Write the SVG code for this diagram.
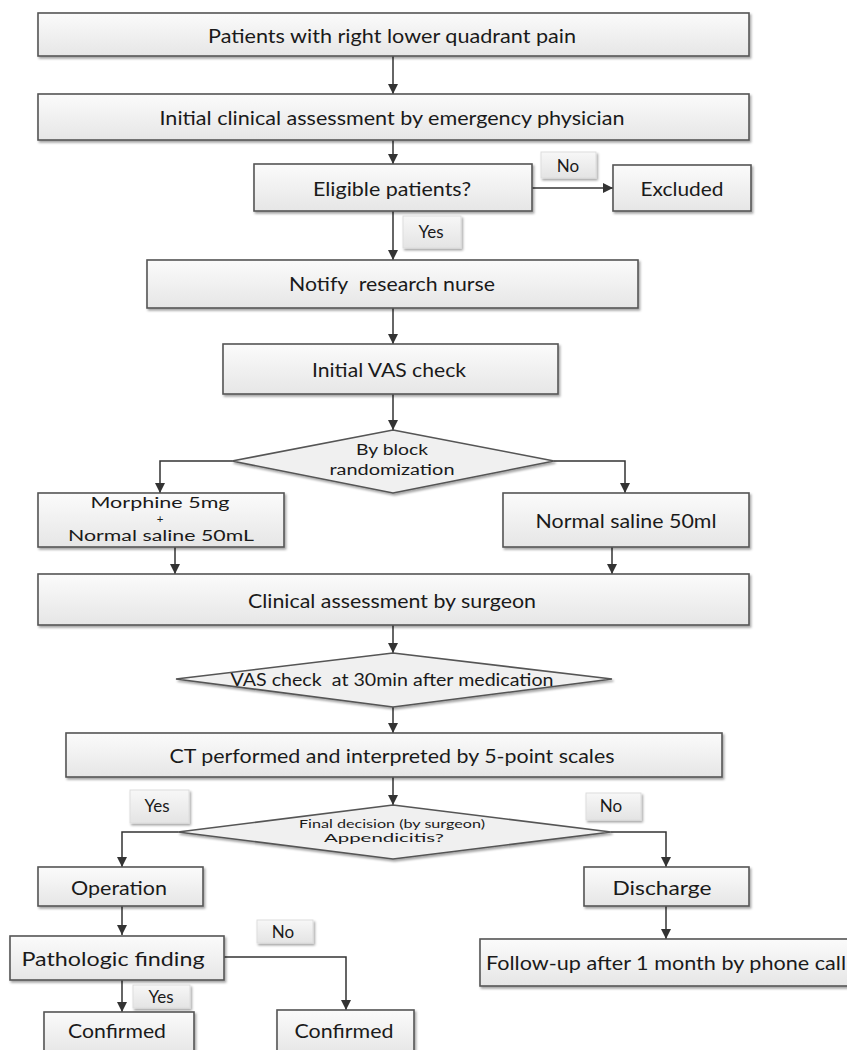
<svg xmlns="http://www.w3.org/2000/svg" width="847" height="1050" viewBox="0 0 847 1050">
<defs>
<linearGradient id="g" x1="0" y1="0" x2="0" y2="1">
<stop offset="0" stop-color="#fbfbfb"/>
<stop offset="1" stop-color="#e6e6e6"/>
</linearGradient>
<linearGradient id="gl" x1="0" y1="0" x2="0" y2="1">
<stop offset="0" stop-color="#f7f7f7"/>
<stop offset="1" stop-color="#e4e4e4"/>
</linearGradient>
<filter id="sh" x="-10%" y="-20%" width="120%" height="150%">
<feDropShadow dx="1.5" dy="2" stdDeviation="1.2" flood-color="#000" flood-opacity="0.35"/>
</filter>
<marker id="ah" viewBox="0 0 10 10" refX="10" refY="5" markerWidth="10" markerHeight="10" markerUnits="userSpaceOnUse" orient="auto">
<path d="M0,0 L10,5 L0,10 z" fill="#333"/>
</marker>
<style>
.box{fill:url(#g);stroke:#555;stroke-width:1.6;filter:url(#sh)}
.dia{fill:#f0f0f0;stroke:#555;stroke-width:1.6;filter:url(#sh)}
.lab{fill:url(#gl);stroke:#ddd;stroke-width:1;filter:url(#sh)}
.t{font-family:Lato,"Open Sans","Liberation Sans",sans-serif;font-size:19px;fill:#1a1a1a;text-anchor:middle;dominant-baseline:central}
.s{font-size:17px}
.m{font-size:15.5px}
.xs{font-size:11.5px}
.c{fill:none;stroke:#333;stroke-width:1.5;marker-end:url(#ah)}
</style>
</defs>
<rect width="847" height="1050" fill="#fff"/>

<g id="connectors">
<path class="c" d="M393,56 V94"/>
<path class="c" d="M393,140 V164"/>
<path class="c" d="M532,188 H613"/>
<path class="c" d="M393,211 V260"/>
<path class="c" d="M393,308 V344"/>
<path class="c" d="M393,394 V430"/>
<path class="c" d="M232,461 H160 V493"/>
<path class="c" d="M554,461 H625 V493"/>
<path class="c" d="M175,547 V574"/>
<path class="c" d="M612,547 V574"/>
<path class="c" d="M393,625 V653"/>
<path class="c" d="M393,707 V733"/>
<path class="c" d="M393,777 V805"/>
<path class="c" d="M178,832 H122 V867"/>
<path class="c" d="M611,832 H666 V867"/>
<path class="c" d="M122,906 V935"/>
<path class="c" d="M666,906 V939"/>
<path class="c" d="M122,980 V1012"/>
<path class="c" d="M224,957 H346 V1010"/>
</g>

<g id="n1"><rect class="box" x="38" y="13" width="711" height="43"/><text class="t" x="392" y="35" textLength="368" lengthAdjust="spacingAndGlyphs">Patients with right lower quadrant pain</text></g>
<g id="n2"><rect class="box" x="38" y="94" width="711" height="46"/><text class="t" x="392" y="117" textLength="465" lengthAdjust="spacingAndGlyphs">Initial clinical assessment by emergency physician</text></g>
<g id="n3"><rect class="box" x="254" y="164" width="278" height="47"/><text class="t" x="392" y="188" textLength="158" lengthAdjust="spacingAndGlyphs">Eligible patients?</text></g>
<g id="n4"><rect class="box" x="613" y="165" width="138" height="46"/><text class="t" x="682" y="188" textLength="83" lengthAdjust="spacingAndGlyphs">Excluded</text></g>
<g id="l1"><rect class="lab" x="541" y="152" width="55" height="26"/><text class="t s" x="568" y="165">No</text></g>
<g id="l2"><rect class="lab" x="403" y="216" width="58" height="32"/><text class="t s" x="431" y="231">Yes</text></g>
<g id="n5"><rect class="box" x="147" y="260" width="491" height="48"/><text class="t" x="392" y="283" textLength="206" lengthAdjust="spacingAndGlyphs" xml:space="preserve">Notify  research nurse</text></g>
<g id="n6"><rect class="box" x="223" y="344" width="335" height="50"/><text class="t" x="389" y="369" textLength="154" lengthAdjust="spacingAndGlyphs">Initial VAS check</text></g>
<g id="n7"><polygon class="dia" points="393,430 554,461 393,493 232,461"/><text class="t m" x="392" y="449" textLength="72" lengthAdjust="spacingAndGlyphs">By block</text><text class="t m" x="392" y="469" textLength="125" lengthAdjust="spacingAndGlyphs">randomization</text></g>
<g id="n8"><rect class="box" x="38" y="493" width="246" height="54"/><text class="t m" x="160" y="502" textLength="139" lengthAdjust="spacingAndGlyphs">Morphine 5mg</text><text class="t xs" x="160" y="518">+</text><text class="t m" x="161" y="535" textLength="186" lengthAdjust="spacingAndGlyphs">Normal saline 50mL</text></g>
<g id="n9"><rect class="box" x="503" y="493" width="246" height="54"/><text class="t" x="626" y="520" textLength="181" lengthAdjust="spacingAndGlyphs">Normal saline 50ml</text></g>
<g id="n10"><rect class="box" x="38" y="574" width="711" height="51"/><text class="t" x="392" y="600" textLength="288" lengthAdjust="spacingAndGlyphs">Clinical assessment by surgeon</text></g>
<g id="n11"><polygon class="dia" points="393,653 612,679 393,707 176,679"/><text class="t s" x="392" y="679" textLength="323" lengthAdjust="spacingAndGlyphs" xml:space="preserve">VAS check  at 30min after medication</text></g>
<g id="n12"><rect class="box" x="66" y="733" width="656" height="44"/><text class="t" x="392" y="755" textLength="445" lengthAdjust="spacingAndGlyphs">CT performed and interpreted by 5-point scales</text></g>
<g id="l3"><rect class="lab" x="130" y="790" width="59" height="33"/><text class="t s" x="157" y="805">Yes</text></g>
<g id="l4"><rect class="lab" x="586" y="793" width="55" height="27"/><text class="t s" x="611" y="805">No</text></g>
<g id="n13"><polygon class="dia" points="393,805 611,832 393,859 178,832"/><text class="t xs" x="392" y="823" textLength="186" lengthAdjust="spacingAndGlyphs">Final decision (by surgeon)</text><text class="t xs" x="384" y="837" textLength="120" lengthAdjust="spacingAndGlyphs">Appendicitis?</text></g>
<g id="n14"><rect class="box" x="38" y="867" width="165" height="39"/><text class="t" x="119" y="887" textLength="96" lengthAdjust="spacingAndGlyphs">Operation</text></g>
<g id="n15"><rect class="box" x="584" y="867" width="165" height="39"/><text class="t" x="662" y="887" textLength="99" lengthAdjust="spacingAndGlyphs">Discharge</text></g>
<g id="l5"><rect class="lab" x="257" y="920" width="56" height="23"/><text class="t s" x="283" y="931">No</text></g>
<g id="n16"><rect class="box" x="10" y="936" width="214" height="44"/><text class="t" x="113" y="958" textLength="183" lengthAdjust="spacingAndGlyphs">Pathologic finding</text></g>
<g id="n17"><rect class="box" x="480" y="939" width="372" height="47"/><text class="t" x="666" y="962" textLength="360" lengthAdjust="spacingAndGlyphs">Follow-up after 1 month by phone call</text></g>
<g id="l6"><rect class="lab" x="133" y="985" width="57" height="23"/><text class="t s" x="161" y="996">Yes</text></g>
<g id="n18"><rect class="box" x="44" y="1012" width="150" height="42"/><text class="t" x="117" y="1030" textLength="98" lengthAdjust="spacingAndGlyphs">Confirmed</text></g>
<g id="n19"><rect class="box" x="277" y="1010" width="137" height="44"/><text class="t" x="344" y="1030" textLength="99" lengthAdjust="spacingAndGlyphs">Confirmed</text></g>
</svg>
